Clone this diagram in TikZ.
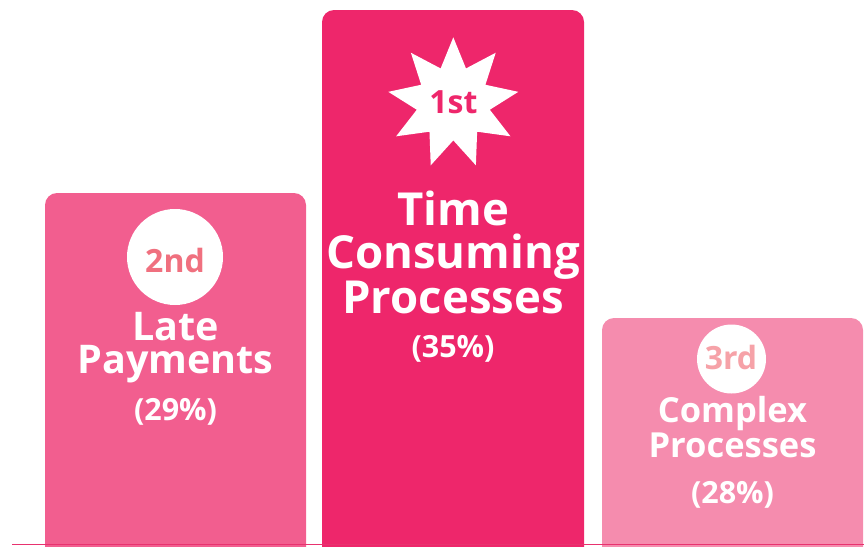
\documentclass[tikz,border=0pt]{standalone}
\usepackage{fontspec}
\setmainfont{Open Sans}
\usetikzlibrary{shapes.geometric}
\definecolor{barL}{HTML}{F25E8F}
\definecolor{barM}{HTML}{EE266B}
\definecolor{barR}{HTML}{F58CAE}
\definecolor{txtL}{HTML}{F0707F}
\definecolor{txtR}{HTML}{F6A2A8}
\definecolor{baseln}{HTML}{E8326F}
\tikzset{
  lbl/.style={text=white, anchor=base, inner sep=0pt, font=\bfseries\fontsize{#1}{#1}\selectfont},
  badge/.style={circle, fill=white, inner sep=0pt, minimum size=#1},
  rank/.style={anchor=base, inner sep=0pt, font=\bfseries\fontsize{32}{32}\selectfont},
}
\begin{document}
\begin{tikzpicture}[x=1pt,y=-1pt]
\useasboundingbox (0,0) rectangle (864,546);
\clip (0,0) rectangle (864,546);
% bars
\fill[barL, rounded corners=12pt] (45,193) rectangle (306,570);
\fill[barM, rounded corners=12pt] (322,10) rectangle (584,570);
\fill[barR, rounded corners=12pt] (602,318) rectangle (863,570);
% baseline
\coordinate (b1) at (12,544.6);
\coordinate (b2) at (864,544.6);
\draw[baseln, line width=1.2pt] (b1) -- (b2);
% middle
\node[star, star points=9, star point ratio=1.78, fill=white, inner sep=0pt, minimum size=132pt] (star) at (453.3,103.3) {};
\node[rank, text=barM] (first) at (453.5,113) {1st};
\node[lbl=45.5] (m1) at (453,225) {Time};
\node[lbl=45.5] (m2) at (453,268) {Consuming};
\node[lbl=45.5] (m3) at (453,313) {Processes};
\node[lbl=30.5] (m4) at (453,357) {(35\%)};
% left
\node[badge=96pt] (c2) at (175,257) {};
\node[rank, text=txtL] (second) at (175,272) {2nd};
\node[lbl=39.5] (l1) at (175.5,340) {Late};
\node[lbl=39.5] (l2) at (175.5,373) {Payments};
\node[lbl=30.5] (l3) at (175.5,420) {(29\%)};
% right
\node[badge=69pt] (c3) at (731.5,359) {};
\node[rank, text=txtR] (third) at (731,369) {3rd};
\node[lbl=34.5] (r1) at (732.5,422) {Complex};
\node[lbl=34.5] (r2) at (732.5,457) {Processes};
\node[lbl=30.5] (r3) at (732.5,503) {(28\%)};
\end{tikzpicture}
\end{document}
